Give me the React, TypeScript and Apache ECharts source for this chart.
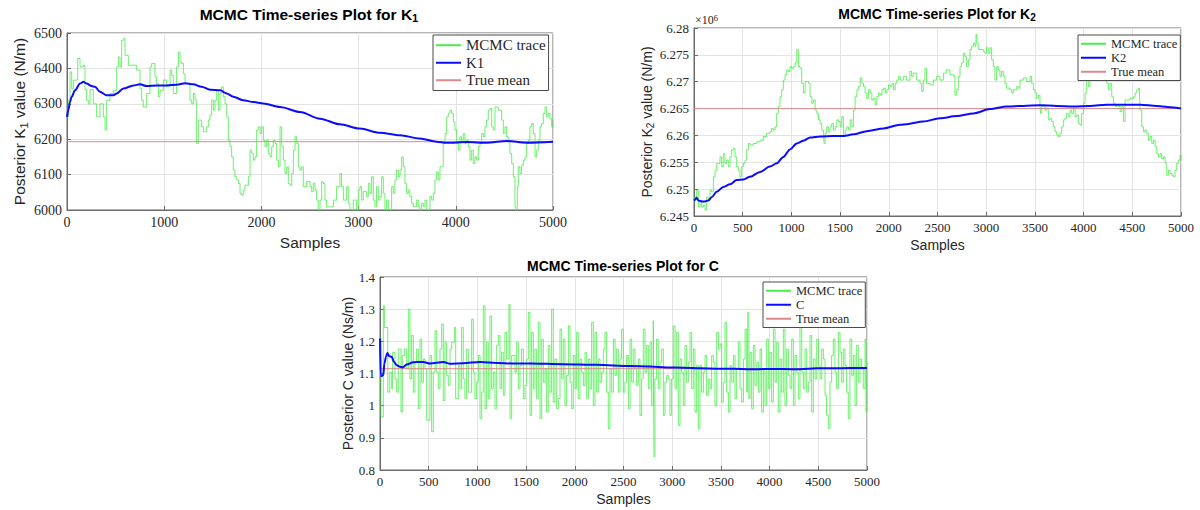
import React, { useEffect, useRef } from 'react';
import * as echarts from 'echarts';

const SERIF = '"Liberation Serif", "Times New Roman", serif';
const SANS = '"Liberation Sans", Arial, Helvetica, sans-serif';
const TRACE_COLOR = '#47ec47';
const MEAN_COLOR = '#0b0bff';
const TRUE_COLOR = '#d98a8a';
const TEXT = '#262626';

// ---------- K1 ----------
const K1_TRUE_MEAN = 6193;
const K1_TRACE: [number, number][] = [
  [0,6263],[14,6310],[31,6390],[48,6343],[65,6367],[110,6428],[134,6404],[168,6408],[185,6340],[202,6310],[219,6300],[237,6340],[271,6300],[305,6263],[339,6300],[374,6263],[391,6226],[408,6310],[442,6329],[477,6338],[511,6404],[528,6432],[545,6404],[562,6479],[580,6484],[597,6437],[631,6409],[683,6409],[717,6395],[751,6343],[768,6310],[785,6291],[820,6329],[854,6404],[871,6414],[888,6414],[905,6376],[922,6357],[940,6320],[957,6338],[991,6367],[1025,6348],[1060,6395],[1077,6380],[1094,6329],[1128,6404],[1146,6446],[1163,6418],[1180,6414],[1197,6385],[1214,6357],[1231,6357],[1265,6310],[1283,6300],[1300,6329],[1317,6310],[1334,6188],[1351,6254],[1368,6254],[1385,6235],[1403,6221],[1437,6235],[1454,6254],[1471,6268],[1488,6310],[1506,6282],[1523,6310],[1540,6338],[1557,6282],[1574,6329],[1591,6348],[1608,6320],[1626,6300],[1643,6263],[1660,6197],[1677,6179],[1694,6150],[1711,6113],[1728,6094],[1746,6085],[1763,6075],[1780,6047],[1797,6042],[1814,6056],[1831,6070],[1849,6070],[1866,6094],[1883,6169],[1900,6160],[1917,6141],[1934,6150],[1951,6226],[1969,6235],[1986,6216],[2003,6235],[2020,6197],[2037,6179],[2054,6197],[2071,6160],[2089,6150],[2106,6179],[2123,6197],[2140,6188],[2157,6141],[2174,6122],[2192,6235],[2209,6179],[2226,6141],[2243,6103],[2260,6122],[2277,6075],[2294,6070],[2312,6103],[2329,6169],[2346,6207],[2363,6188],[2380,6122],[2397,6113],[2414,6122],[2431,6066],[2465,6080],[2500,6066],[2517,6052],[2534,6075],[2551,6056],[2568,6028],[2585,5995],[2603,6028],[2620,6080],[2637,6075],[2654,6028],[2671,6009],[2705,6009],[2740,6028],[2774,6066],[2808,6103],[2825,6066],[2843,6028],[2877,6066],[2894,6019],[2911,5995],[2945,6028],[2980,5995],[2997,6056],[3014,6066],[3031,6028],[3048,6052],[3083,6038],[3100,6075],[3117,6047],[3134,6094],[3151,6028],[3168,6009],[3185,6066],[3203,6028],[3220,6038],[3237,6094],[3254,6047],[3271,5995],[3288,6028],[3306,5995],[3323,5998],[3340,6066],[3357,6047],[3374,6085],[3391,6113],[3408,6094],[3426,6113],[3443,6150],[3460,6122],[3477,6075],[3494,6047],[3511,6056],[3528,6038],[3546,6019],[3563,6009],[3580,6009],[3597,6028],[3614,6009],[3631,5995],[3649,6019],[3666,6009],[3683,6028],[3700,5995],[3717,5998],[3734,6038],[3752,6028],[3769,6047],[3786,6085],[3803,6108],[3820,6085],[3837,6122],[3854,6122],[3871,6188],[3889,6216],[3906,6263],[3923,6273],[3940,6282],[3957,6273],[3974,6249],[3991,6226],[4009,6188],[4026,6169],[4043,6207],[4060,6197],[4077,6216],[4094,6188],[4112,6197],[4129,6179],[4146,6141],[4163,6169],[4180,6131],[4197,6150],[4214,6141],[4232,6179],[4249,6188],[4266,6216],[4283,6207],[4300,6235],[4317,6254],[4334,6282],[4352,6287],[4369,6235],[4386,6226],[4403,6291],[4420,6291],[4437,6282],[4454,6282],[4472,6254],[4489,6216],[4506,6235],[4523,6207],[4540,6197],[4557,6160],[4575,6131],[4592,6094],[4609,6009],[4619,5995],[4633,6066],[4643,6122],[4660,6103],[4677,6127],[4695,6141],[4712,6150],[4729,6188],[4746,6197],[4763,6235],[4780,6244],[4797,6216],[4815,6150],[4832,6169],[4849,6197],[4866,6235],[4883,6244],[4900,6273],[4918,6291],[4935,6263],[4952,6273],[4969,6258],[4986,6235],[5000,6254]
];
const K1_MEAN: [number, number][] = [
  [0,6263],[14,6282],[31,6305],[48,6320],[82,6338],[134,6357],[168,6362],[202,6357],[254,6350],[288,6348],[339,6334],[408,6324],[477,6324],[511,6329],[580,6343],[683,6352],[751,6355],[820,6350],[922,6352],[1025,6352],[1128,6354],[1214,6358],[1300,6355],[1385,6348],[1471,6340],[1577,6338],[1643,6329],[1711,6320],[1814,6310],[1917,6305],[2020,6301],[2191,6291],[2397,6277],[2603,6258],[2808,6242],[3014,6230],[3220,6218],[3426,6211],[3631,6202],[3803,6193],[3906,6190],[4112,6192],[4317,6190],[4523,6195],[4729,6190],[5000,6193]
];

// ---------- K2 (x 10^6 N/m) ----------
const K2_TRUE_MEAN = 6.265;
const K2_TRACE: [number, number][] = [
  [0,6.2479],[9,6.2485],[27,6.2498],[45,6.2467],[62,6.2479],[79,6.2467],[96,6.2470],[113,6.2461],[130,6.2485],[147,6.2479],[164,6.2498],[181,6.2495],[199,6.2523],[216,6.2535],[233,6.2548],[250,6.2548],[267,6.2560],[284,6.2542],[301,6.2566],[318,6.2548],[335,6.2554],[352,6.2542],[370,6.2560],[387,6.2573],[404,6.2576],[421,6.2560],[438,6.2542],[455,6.2535],[472,6.2523],[490,6.2542],[507,6.2548],[524,6.2554],[541,6.2573],[558,6.2585],[575,6.2582],[609,6.2585],[643,6.2588],[678,6.2591],[712,6.2598],[746,6.2604],[780,6.2607],[797,6.2613],[815,6.2610],[832,6.2616],[849,6.2641],[866,6.2654],[883,6.2672],[900,6.2685],[917,6.2703],[935,6.2713],[952,6.2722],[969,6.2719],[986,6.2728],[1003,6.2725],[1020,6.2728],[1038,6.2735],[1055,6.2760],[1072,6.2728],[1089,6.2725],[1106,6.2697],[1123,6.2679],[1141,6.2700],[1158,6.2700],[1175,6.2697],[1192,6.2672],[1209,6.2660],[1226,6.2666],[1244,6.2647],[1261,6.2641],[1278,6.2629],[1295,6.2622],[1312,6.2610],[1329,6.2604],[1336,6.2585],[1346,6.2604],[1363,6.2616],[1380,6.2607],[1397,6.2616],[1414,6.2622],[1432,6.2610],[1449,6.2616],[1466,6.2629],[1483,6.2626],[1500,6.2616],[1517,6.2635],[1534,6.2598],[1552,6.2610],[1569,6.2616],[1586,6.2610],[1603,6.2629],[1620,6.2616],[1637,6.2647],[1654,6.2672],[1672,6.2685],[1689,6.2691],[1706,6.2707],[1723,6.2697],[1740,6.2691],[1757,6.2679],[1774,6.2669],[1791,6.2685],[1809,6.2679],[1826,6.2666],[1843,6.2669],[1860,6.2657],[1877,6.2672],[1894,6.2679],[1911,6.2675],[1929,6.2685],[1946,6.2688],[1963,6.2679],[1980,6.2685],[1997,6.2694],[2015,6.2691],[2032,6.2697],[2049,6.2685],[2066,6.2697],[2083,6.2703],[2101,6.2710],[2118,6.2703],[2149,6.2710],[2183,6.2703],[2217,6.2719],[2234,6.2710],[2251,6.2716],[2286,6.2703],[2320,6.2697],[2337,6.2682],[2354,6.2703],[2371,6.2725],[2388,6.2697],[2422,6.2694],[2457,6.2703],[2491,6.2710],[2525,6.2703],[2560,6.2716],[2594,6.2722],[2628,6.2713],[2662,6.2710],[2679,6.2675],[2697,6.2685],[2714,6.2710],[2731,6.2728],[2748,6.2735],[2765,6.2753],[2782,6.2747],[2799,6.2728],[2817,6.2741],[2834,6.2760],[2851,6.2766],[2868,6.2772],[2885,6.2766],[2895,6.2788],[2905,6.2772],[2919,6.2760],[2936,6.2760],[2970,6.2756],[2987,6.2753],[3004,6.2763],[3021,6.2753],[3039,6.2763],[3056,6.2741],[3073,6.2728],[3090,6.2703],[3107,6.2728],[3124,6.2722],[3141,6.2710],[3158,6.2719],[3176,6.2710],[3193,6.2697],[3210,6.2688],[3244,6.2685],[3262,6.2679],[3279,6.2685],[3313,6.2691],[3330,6.2688],[3347,6.2703],[3381,6.2707],[3416,6.2700],[3450,6.2710],[3467,6.2697],[3484,6.2685],[3501,6.2679],[3518,6.2669],[3535,6.2675],[3552,6.2654],[3559,6.2641],[3570,6.2654],[3587,6.2657],[3604,6.2647],[3621,6.2651],[3638,6.2629],[3655,6.2632],[3672,6.2626],[3689,6.2616],[3706,6.2607],[3724,6.2601],[3741,6.2598],[3758,6.2604],[3775,6.2616],[3792,6.2629],[3809,6.2632],[3826,6.2641],[3843,6.2635],[3861,6.2647],[3878,6.2641],[3895,6.2651],[3912,6.2635],[3929,6.2638],[3946,6.2622],[3963,6.2619],[3980,6.2641],[3998,6.2660],[4015,6.2679],[4032,6.2703],[4049,6.2691],[4066,6.2710],[4101,6.2728],[4135,6.2735],[4169,6.2728],[4204,6.2716],[4221,6.2703],[4238,6.2697],[4255,6.2685],[4272,6.2697],[4289,6.2672],[4306,6.2660],[4323,6.2654],[4341,6.2657],[4358,6.2654],[4375,6.2644],[4392,6.2654],[4409,6.2626],[4426,6.2666],[4443,6.2666],[4477,6.2669],[4512,6.2672],[4529,6.2679],[4546,6.2685],[4563,6.2688],[4573,6.2685],[4580,6.2647],[4597,6.2616],[4614,6.2607],[4631,6.2610],[4648,6.2604],[4665,6.2591],[4683,6.2598],[4700,6.2585],[4717,6.2591],[4734,6.2579],[4751,6.2566],[4768,6.2560],[4785,6.2566],[4802,6.2557],[4820,6.2560],[4837,6.2548],[4854,6.2526],[4871,6.2535],[4888,6.2529],[4905,6.2526],[4922,6.2523],[4939,6.2535],[4956,6.2548],[4973,6.2554],[4990,6.2563],[5000,6.2554]
];
const K2_MEAN: [number, number][] = [
  [0,6.2479],[9,6.2480],[27,6.2484],[45,6.2479],[79,6.2477],[113,6.2477],[147,6.2479],[181,6.2485],[233,6.2495],[301,6.2504],[370,6.2509],[438,6.2517],[507,6.2518],[575,6.2523],[678,6.2532],[780,6.2542],[849,6.2548],[917,6.2560],[986,6.2574],[1055,6.2585],[1123,6.2590],[1192,6.2596],[1295,6.2598],[1432,6.2599],[1534,6.2599],[1637,6.2602],[1774,6.2608],[1946,6.2613],[2118,6.2620],[2183,6.2621],[2354,6.2626],[2525,6.2632],[2697,6.2636],[2868,6.2641],[3039,6.2649],[3210,6.2654],[3381,6.2655],[3552,6.2656],[3724,6.2655],[3895,6.2654],[4066,6.2655],[4238,6.2657],[4409,6.2657],[4580,6.2657],[4751,6.2655],[4922,6.2652],[5000,6.2650]
];

// ---------- C ----------
const C_TRUE_MEAN = 1.115;
const C_TRACE: [number, number][] = [
  [0,1.21],[10,0.965],[34,1.31],[45,1.243],[80,1.042],[100,1.104],[120,1.053],[130,1.166],[154,1.083],[171,1.042],[188,1.176],[216,0.98],[229,1.156],[250,1.176],[274,1.114],[291,1.3],[308,1.083],[325,1.218],[342,1.042],[359,1.135],[376,1.176],[393,0.991],[411,1.207],[428,1.073],[445,1.145],[462,1.114],[479,0.955],[513,1.156],[530,0.919],[547,1.104],[565,1.233],[582,1.104],[599,1.053],[616,1.176],[633,1.254],[650,1.016],[667,1.197],[684,1.094],[701,1.063],[719,1.176],[736,1.197],[763,1.243],[777,1.022],[804,1.125],[821,1.053],[838,1.243],[855,1.083],[872,1.022],[890,1.176],[907,1.042],[941,1.269],[958,1.104],[975,1.022],[992,1.073],[1010,1.156],[1027,0.96],[1044,1.042],[1061,1.31],[1078,0.991],[1095,1.197],[1112,1.022],[1129,1.279],[1146,1.053],[1163,1.104],[1181,0.991],[1198,1.187],[1215,1.218],[1232,1.053],[1249,1.166],[1266,1.032],[1283,1.228],[1300,1.145],[1324,1.315],[1335,0.96],[1352,1.156],[1386,1.104],[1403,1.197],[1420,1.053],[1437,1.125],[1454,1.176],[1472,1.022],[1489,1.063],[1506,1.145],[1523,1.29],[1540,0.97],[1557,1.228],[1574,1.053],[1591,1.176],[1608,1.022],[1625,1.259],[1643,0.96],[1660,1.207],[1677,1.073],[1694,1.114],[1711,0.98],[1728,1.187],[1745,1.042],[1762,1.3],[1779,1.011],[1796,1.145],[1814,0.991],[1831,1.022],[1848,1.238],[1865,1.083],[1882,1.207],[1899,1.001],[1916,1.094],[1934,1.248],[1951,1.073],[1968,0.991],[1985,1.156],[2002,1.053],[2019,1.228],[2036,1.022],[2053,1.145],[2070,1.104],[2088,1.063],[2105,1.166],[2122,1.022],[2139,1.145],[2156,1.053],[2173,1.259],[2190,1.001],[2207,1.228],[2224,1.042],[2242,1.145],[2259,1.073],[2276,1.104],[2293,1.176],[2310,1.228],[2327,1.042],[2344,0.929],[2361,1.114],[2378,1.042],[2396,1.207],[2413,1.094],[2430,1.176],[2447,1.042],[2464,1.145],[2481,1.238],[2498,1.042],[2515,1.073],[2532,1.156],[2550,0.991],[2567,1.207],[2584,1.073],[2601,1.176],[2618,1.114],[2635,1.063],[2652,1.145],[2669,0.97],[2686,1.083],[2703,1.238],[2721,1.104],[2738,1.187],[2755,1.053],[2772,1.197],[2789,1.001],[2806,1.264],[2813,0.841],[2823,1.083],[2840,1.207],[2857,1.053],[2875,1.135],[2892,1.176],[2909,0.97],[2926,1.073],[2943,1.094],[2960,1.083],[2977,0.97],[2994,1.083],[3011,1.248],[3029,1.053],[3046,1.228],[3063,0.939],[3080,1.145],[3097,1.104],[3114,1.001],[3131,1.187],[3148,1.073],[3166,1.135],[3183,1.228],[3200,1.053],[3217,1.176],[3234,0.98],[3251,1.125],[3268,0.929],[3285,1.125],[3302,1.042],[3320,1.104],[3337,1.156],[3354,1.032],[3371,1.083],[3388,1.053],[3405,1.156],[3422,1.135],[3439,1.001],[3457,1.228],[3474,1.176],[3491,1.192],[3508,1.011],[3525,1.073],[3542,1.259],[3559,1.042],[3577,0.98],[3594,1.125],[3611,1.073],[3628,1.156],[3645,1.022],[3662,1.114],[3679,1.197],[3696,1.053],[3714,1.011],[3731,1.145],[3748,1.238],[3765,1.042],[3775,1.29],[3788,1.022],[3799,1.166],[3816,0.991],[3833,1.187],[3850,1.063],[3868,1.135],[3885,1.042],[3902,1.176],[3918,0.98],[3936,1.114],[3953,1.001],[3970,1.207],[3987,1.053],[4004,1.166],[4021,1.011],[4039,1.238],[4056,1.073],[4073,1.197],[4089,0.98],[4107,1.145],[4124,1.042],[4141,1.238],[4158,1.001],[4175,1.176],[4193,1.094],[4210,1.053],[4227,1.207],[4244,1.001],[4261,1.156],[4278,1.104],[4295,1.022],[4312,1.259],[4330,1.104],[4347,1.053],[4364,1.176],[4381,1.042],[4398,1.073],[4415,1.218],[4432,0.98],[4449,1.145],[4467,1.083],[4484,1.207],[4501,1.125],[4518,1.083],[4535,1.176],[4552,1.145],[4569,1.032],[4585,0.97],[4603,0.929],[4620,1.073],[4637,1.156],[4654,1.207],[4671,1.104],[4688,1.053],[4706,1.228],[4723,1.166],[4740,1.073],[4757,1.176],[4774,1.125],[4791,1.042],[4808,0.96],[4825,1.207],[4843,1.094],[4860,1.156],[4877,1.001],[4894,1.187],[4911,1.073],[4928,1.145],[4945,1.114],[4962,1.053],[4980,1.207],[4990,0.98],[5000,1.135]
];
const C_MEAN: [number, number][] = [
  [0,1.209],[7,1.095],[17,1.092],[34,1.095],[45,1.131],[62,1.152],[75,1.164],[96,1.154],[120,1.152],[144,1.136],[171,1.126],[205,1.121],[233,1.119],[274,1.128],[342,1.135],[445,1.136],[513,1.131],[650,1.136],[719,1.13],[855,1.132],[1027,1.136],[1198,1.133],[1369,1.131],[1540,1.131],[1882,1.129],[2224,1.127],[2567,1.123],[2772,1.122],[2943,1.119],[3115,1.118],[3286,1.116],[3457,1.115],[3628,1.115],[3799,1.113],[3970,1.114],[4141,1.114],[4312,1.113],[4483,1.116],[4654,1.116],[4825,1.117],[5000,1.117]
];

const X_MAX = 5000;

type Panel = {
  grid: { left: number; top: number; width: number; height: number };
  xInterval: number;
  yMin: number; yMax: number; yInterval: number;
  tickFont: number; nameFont: number; yNameGap: number; xNameGap: number;
  yName: string;
  meanName: string;
  trace: [number, number][]; mean: [number, number][]; trueMean: number;
  fmt: (v: number) => string;
  legend: { left: number; top: number; font: number; lh: number; gap: number };
};

const PANELS: Panel[] = [
  {
    grid: { left: 67, top: 33, width: 486, height: 177 },
    xInterval: 1000, yMin: 6000, yMax: 6500, yInterval: 100,
    tickFont: 14, nameFont: 15.5, yNameGap: 38, xNameGap: 24,
    yName: '{a|Posterior K}{s|1}{a| value (N/m)}',
    meanName: 'K1', trace: K1_TRACE, mean: K1_MEAN, trueMean: K1_TRUE_MEAN,
    fmt: (v) => String(v),
    legend: { left: 433, top: 35, font: 15, lh: 16.5, gap: 1 },
  },
  {
    grid: { left: 694, top: 28, width: 487, height: 188 },
    xInterval: 500, yMin: 6.245, yMax: 6.28, yInterval: 0.005,
    tickFont: 13, nameFont: 14, yNameGap: 38, xNameGap: 22,
    yName: '{a|Posterior K}{s|2}{a| value (N/m)}',
    meanName: 'K2', trace: K2_TRACE, mean: K2_MEAN, trueMean: K2_TRUE_MEAN,
    fmt: (v) => String(parseFloat(v.toFixed(3))),
    legend: { left: 1078, top: 35, font: 12.5, lh: 13.5, gap: 0.5 },
  },
  {
    grid: { left: 380, top: 277, width: 487, height: 193 },
    xInterval: 500, yMin: 0.8, yMax: 1.4, yInterval: 0.1,
    tickFont: 13, nameFont: 14, yNameGap: 24, xNameGap: 22,
    yName: '{a|Posterior C value (Ns/m)}',
    meanName: 'C', trace: C_TRACE, mean: C_MEAN, trueMean: C_TRUE_MEAN,
    fmt: (v) => String(parseFloat(v.toFixed(2))),
    legend: { left: 763, top: 282, font: 12.5, lh: 13.5, gap: 0.5 },
  },
];

const TITLES = [
  { x: 309, y: 14, size: 15.5, text: '{a|MCMC Time-series Plot for K}{s|1}' },
  { x: 937, y: 14, size: 14, text: '{a|MCMC Time-series Plot for K}{s|2}' },
  { x: 623, y: 266, size: 14, text: '{a|MCMC Time-series Plot for C}' },
];

function buildOption() {
  const grid: any[] = [];
  const xAxis: any[] = [];
  const yAxis: any[] = [];
  const series: any[] = [];
  const legend: any[] = [];

  PANELS.forEach((p, i) => {
    grid.push({ ...p.grid, show: true, borderColor: '#6a6a6a', borderWidth: 1, backgroundColor: 'transparent' });
    xAxis.push({
      gridIndex: i, type: 'value', min: 0, max: X_MAX, interval: p.xInterval,
      name: 'Samples', nameLocation: 'middle', nameGap: p.xNameGap,
      nameTextStyle: { fontFamily: SANS, fontSize: p.nameFont, color: TEXT },
      axisLine: { show: true, onZero: false, lineStyle: { color: '#6a6a6a', width: 1 } },
      axisTick: { show: true, inside: true, length: 4, lineStyle: { color: '#6a6a6a' } },
      axisLabel: { fontFamily: SERIF, fontSize: p.tickFont, color: TEXT, margin: 5, showMinLabel: true, showMaxLabel: true, formatter: (v: number) => String(Math.round(v)) },
      splitLine: { show: true, lineStyle: { color: '#e3e3e3', width: 1 } },
    });
    yAxis.push({
      gridIndex: i, type: 'value', min: p.yMin, max: p.yMax, interval: p.yInterval,
      name: p.yName, nameLocation: 'middle', nameGap: p.yNameGap, nameRotate: 90,
      nameTextStyle: {
        fontFamily: SANS, fontSize: p.nameFont, color: TEXT,
        rich: {
          a: { fontFamily: SANS, fontSize: p.nameFont, color: TEXT, lineHeight: p.nameFont + 3 },
          s: { fontFamily: SANS, fontSize: p.nameFont * 0.72, color: TEXT, lineHeight: 7, verticalAlign: 'bottom' },
        },
      },
      axisLine: { show: true, onZero: false, lineStyle: { color: '#6a6a6a', width: 1 } },
      axisTick: { show: true, inside: true, length: 4, lineStyle: { color: '#6a6a6a' } },
      axisLabel: { fontFamily: SERIF, fontSize: p.tickFont, color: TEXT, margin: 5, formatter: (v: number) => p.fmt(v), showMinLabel: true, showMaxLabel: true },
      splitLine: { show: true, lineStyle: { color: '#e3e3e3', width: 1 } },
    });
    series.push({
      name: 'MCMC trace', type: 'line', xAxisIndex: i, yAxisIndex: i,
      data: p.trace, step: 'end', symbol: 'none', showSymbol: false, clip: true,
      lineStyle: { color: TRACE_COLOR, width: 0.8 }, itemStyle: { color: TRACE_COLOR }, z: 2,
    });
    series.push({
      name: 'True mean', type: 'line', xAxisIndex: i, yAxisIndex: i,
      data: [[0, p.trueMean], [X_MAX, p.trueMean]], symbol: 'none', showSymbol: false,
      lineStyle: { color: TRUE_COLOR, width: 1 }, itemStyle: { color: TRUE_COLOR }, z: 3,
    });
    series.push({
      name: p.meanName, type: 'line', xAxisIndex: i, yAxisIndex: i,
      data: p.mean, symbol: 'none', showSymbol: false, smooth: 0.3, smoothMonotone: 'x',
      lineStyle: { color: MEAN_COLOR, width: 2 }, itemStyle: { color: MEAN_COLOR }, z: 4,
    });
    legend.push({
      data: ['MCMC trace', p.meanName, 'True mean'],
      orient: 'vertical', left: p.legend.left, top: p.legend.top,
      padding: [2, 3, 2, 2], itemWidth: 25, itemHeight: 10, itemGap: p.legend.gap,
      backgroundColor: '#ffffff', borderColor: '#4a4a4a', borderWidth: 1,
      selectedMode: false, itemStyle: { opacity: 0 },
      textStyle: { fontFamily: SERIF, fontSize: p.legend.font, color: TEXT, lineHeight: p.legend.lh },
    });
  });

  const graphic: any[] = TITLES.map((t) => ({
    type: 'text', x: t.x, y: t.y, silent: true,
    style: {
      text: t.text, align: 'center', verticalAlign: 'middle',
      rich: {
        a: { fontFamily: SANS, fontWeight: 'bold', fontSize: t.size, fill: '#000', lineHeight: t.size + 3 },
        s: { fontFamily: SANS, fontWeight: 'bold', fontSize: t.size * 0.72, fill: '#000', lineHeight: 7, verticalAlign: 'bottom' },
      },
    },
  }));
  graphic.push({
    type: 'text', x: 695, y: 20, silent: true,
    style: {
      text: '{a|×10}{s|6}', align: 'left', verticalAlign: 'middle',
      rich: {
        a: { fontFamily: SERIF, fontSize: 12, fill: TEXT, lineHeight: 14 },
        s: { fontFamily: SERIF, fontSize: 8.5, fill: TEXT, lineHeight: 8, verticalAlign: 'top' },
      },
    },
  });

  return { animation: false, backgroundColor: '#ffffff', grid, xAxis, yAxis, series, legend, graphic };
}

export default function App() {
  const ref = useRef<HTMLDivElement>(null);
  useEffect(() => {
    if (!ref.current) return;
    const chart = echarts.init(ref.current, undefined, { renderer: 'svg', width: 1200, height: 510 });
    chart.setOption(buildOption() as any);
    return () => chart.dispose();
  }, []);
  return <div ref={ref} style={{ position: 'absolute', left: 0, top: 0, width: 1200, height: 510 }} />;
}
